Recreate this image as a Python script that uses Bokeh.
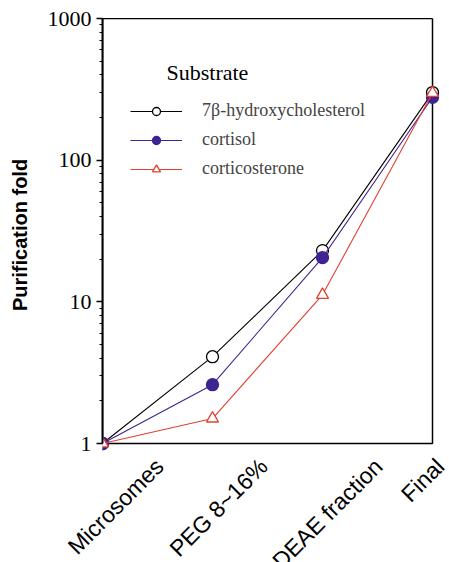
import math
from bokeh.plotting import figure
from bokeh.models import (Range1d, FixedTicker, NumeralTickFormatter, Legend,
                          LegendItem, Label, LinearAxis)
from bokeh.embed import file_html
from bokeh.resources import INLINE

# ---- data ----
stages = ["Microsomes", "PEG 8~16%", "DEAE fraction", "Final"]
hydroxychol = [1.0, 4.1, 23.0, 300.0]
cortisol = [1.0, 2.6, 20.5, 278.0]
corticosterone = [1.0, 1.5, 11.2, 298.0]
series_names = ["7\u03b2-hydroxycholesterol", "cortisol", "corticosterone"]
y_ticks = [1, 10, 100, 1000]
y_min, y_max = 1, 1000

# ---- layout (pixels) ----
box_w, box_h = 330, 425      # visible plot box
pad_r, pad_b = 17, 8         # extra frame room right / below the box
left, top = 102, 18
label_shift = [57, 51, 56, 16]   # px shift of each rotated label's anchor

x = list(range(len(stages)))
n_dec = math.log10(y_max / y_min)
dec_px = box_h / n_dec
x_px = box_w / (len(stages) - 1)

p = figure(frame_width=box_w + pad_r, frame_height=box_h + pad_b,
           x_range=Range1d(0, len(stages) - 1 + pad_r / x_px),
           y_range=Range1d(y_min * 10 ** (-pad_b / dec_px), y_max),
           y_axis_type="log", output_backend="svg", toolbar_location=None,
           min_border_left=left, min_border_right=0, min_border_top=top,
           min_border_bottom=0, x_axis_location=None)

p.xgrid.visible = False
p.ygrid.visible = False
p.outline_line_color = None
p.background_fill_color = "white"
p.border_fill_color = "white"

minor = [m * d for d in (1, 10, 100) for m in range(2, 10)]
ax = p.yaxis[0]
ax.bounds = (y_min, y_max)
ax.ticker = FixedTicker(ticks=y_ticks, minor_ticks=minor)
ax.formatter = NumeralTickFormatter(format="0")
ax.major_label_text_font = "Liberation Serif"
ax.major_label_text_font_size = "22px"
ax.major_label_text_color = "black"
ax.major_label_standoff = 5
ax.major_tick_out = 6
ax.major_tick_in = 0
ax.minor_tick_out = 3
ax.minor_tick_in = 0
ax.major_tick_line_width = 1.5
ax.axis_line_width = 2
ax.axis_line_color = "black"
ax.axis_label = "Purification fold"
ax.axis_label_text_font = "Liberation Sans"
ax.axis_label_text_font_style = "bold"
ax.axis_label_text_font_size = "20px"
ax.axis_label_text_color = "black"
ax.axis_label_standoff = 14

# top border of the box
top_ax = LinearAxis(bounds=(0, len(stages) - 1), ticker=FixedTicker(ticks=[]),
                    major_tick_out=0, major_tick_in=0, minor_tick_out=0,
                    minor_tick_in=0, major_label_standoff=0,
                    major_label_text_font_size="0px",
                    axis_line_color="black", axis_line_width=1)
p.add_layout(top_ax, "above")

# category labels, rotated
tick_pos = [i + s / x_px for i, s in enumerate(label_shift)]
lab_ax = LinearAxis(ticker=FixedTicker(ticks=tick_pos, minor_ticks=[]),
                    major_label_overrides={t: s for t, s in zip(tick_pos, stages)},
                    major_label_orientation=math.pi / 4,
                    major_tick_out=0, major_tick_in=0, minor_tick_out=0,
                    minor_tick_in=0, major_label_standoff=11,
                    axis_line_color=None,
                    major_label_text_font="Liberation Sans",
                    major_label_text_font_size="23px",
                    major_label_text_color="black")
p.add_layout(lab_ax, "below")

# right and bottom border of the box
p.quad(left=[0], right=[len(stages) - 1], bottom=[y_min], top=[y_max],
       fill_color=None, line_color="black", line_width=1.5)

colors = ["black", "#3d2490", "#e3402f"]
data_sets = [hydroxychol, cortisol, corticosterone]
markers = ["circle", "circle", "triangle"]
fills = ["white", "#3d2490", "white"]

items = []
for name, ys, c, m, f in zip(series_names, data_sets, colors, markers, fills):
    lr = p.line(x, ys, line_color=c, line_width=1.1)
    sr = p.scatter(x, ys, marker=m, size=12, line_color=c, fill_color=f,
                   line_width=1.3)
    items.append(LegendItem(label=name, renderers=[lr, sr]))

legend = Legend(items=items, location=(28, 264 + pad_b), glyph_width=52,
                glyph_height=20, label_height=20, label_standoff=20,
                spacing=8, padding=0, margin=0, border_line_color=None,
                background_fill_alpha=0,
                label_text_font="Liberation Serif",
                label_text_font_size="18px")
p.add_layout(legend)

p.add_layout(Label(x=64, y=371 + pad_b, x_units="screen", y_units="screen",
                   text="Substrate", text_font="Liberation Serif",
                   text_font_size="22px", text_baseline="middle",
                   text_color="black"))

open("out.html", "w").write(file_html(p, INLINE))
